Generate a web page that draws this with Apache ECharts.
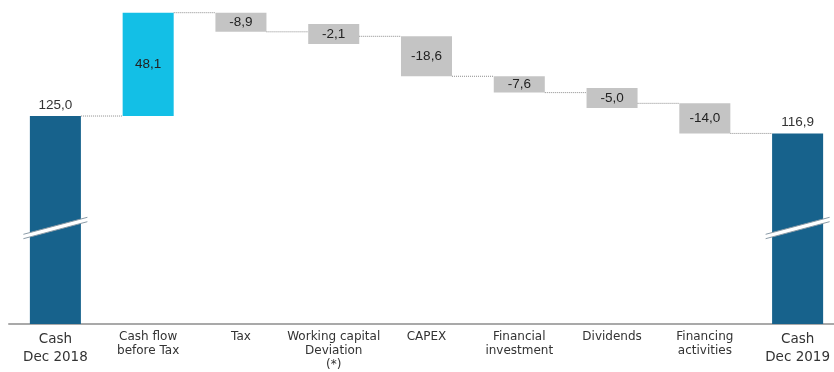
<!DOCTYPE html>
<html>
<head>
<meta charset="utf-8">
<script src="https://cdn.jsdelivr.net/npm/echarts@6/dist/echarts.min.js"></script>
<style>
html,body{margin:0;padding:0;background:#fff;overflow:hidden;width:834px;height:372px;}
#c{width:844px;height:372px;}
</style>
</head>
<body>
<div id="c"></div>
<script>
// ---- data ----
const categories = ['Cash\nDec 2018', 'Cash flow\nbefore Tax', 'Tax', 'Working capital\nDeviation\n(*)', 'CAPEX', 'Financial\ninvestment', 'Dividends', 'Financing\nactivities', 'Cash\nDec 2019'];
const startCash = 125.0;
const deltas = [48.1, -8.9, -2.1, -18.6, -7.6, -5.0, -14.0];
const endCash = 116.9;
const Y_MIN = 28.2, Y_MAX = 179;

// ---- build waterfall items: [idx, low, high, end, kind, value] ----
const items = [];
items.push([0, Y_MIN, startCash, startCash, 0, startCash]);
let run = startCash;
deltas.forEach((d, k) => {
  const prev = run;
  run = +(run + d).toFixed(1);
  items.push([k + 1, Math.min(prev, run), Math.max(prev, run), run, d > 0 ? 1 : 2, d]);
});
items.push([categories.length - 1, Y_MIN, endCash, endCash, 0, endCash]);

const COLORS = ['#17628c', '#13bfe6', '#c4c4c4'];
const fmt = v => v.toFixed(1).replace('.', ',');

const chart = echarts.init(document.getElementById('c'));
chart.setOption({
  animation: false,
  grid: { left: 9, right: 0, top: 0, bottom: 48 },
  xAxis: {
    type: 'category',
    data: categories,
    axisTick: { show: false },
    axisLine: { lineStyle: { color: '#a9a9a9', width: 2 } },
    axisLabel: {
      interval: 0,
      margin: 6,
      formatter: function (v) {
        const lines = v.split('\n');
        const big = v.indexOf('Cash\nDec') === 0;
        return lines.map(l => '{' + (big ? 'b' : 's') + '|' + l + '}').join('\n');
      },
      rich: {
        b: { fontFamily: 'DejaVu Sans', fontSize: 13.5, lineHeight: 18, color: '#333' },
        s: { fontFamily: 'DejaVu Sans', fontSize: 12, lineHeight: 14, color: '#333' }
      }
    }
  },
  yAxis: { type: 'value', min: Y_MIN, max: Y_MAX, show: false, splitLine: { show: false } },
  series: [{
    type: 'custom',
    data: items,
    encode: { x: 0, y: [1, 2] },
    renderItem: function (params, api) {
      const idx = api.value(0), low = api.value(1), high = api.value(2);
      const end = api.value(3), kind = api.value(4), val = api.value(5);
      const pTop = api.coord([idx, high]);
      const pBot = api.coord([idx, low]);
      const bw = api.size([1, 0])[0] * 0.55;
      const cx = pTop[0];
      let y0 = pTop[1], y1 = pBot[1];
      if (kind !== 0 && y1 - y0 < 12) {
        const mid = (y0 + y1) / 2; y0 = mid - 10; y1 = mid + 10;
      }
      const children = [];
      children.push({
        type: 'rect',
        shape: { x: cx - bw / 2, y: y0, width: bw, height: y1 - y0 },
        style: { fill: COLORS[kind] }
      });
      if (kind === 0) {
        // axis-break mark
        const yc = pBot[1] - 96;
        const hw = 32, dy = 8.5, t = 2.2;
        children.push({
          type: 'polygon',
          shape: { points: [[cx - hw, yc + dy - t], [cx + hw, yc - dy - t], [cx + hw, yc - dy + t], [cx - hw, yc + dy + t]] },
          style: { fill: '#ffffff' }
        });
        children.push({ type: 'line', shape: { x1: cx - hw, y1: yc + dy - t, x2: cx + hw, y2: yc - dy - t }, style: { stroke: '#8a9aa6', lineWidth: 1 } });
        children.push({ type: 'line', shape: { x1: cx - hw, y1: yc + dy + t, x2: cx + hw, y2: yc - dy + t }, style: { stroke: '#8a9aa6', lineWidth: 1 } });
        children.push({
          type: 'text',
          style: { text: fmt(val), x: cx, y: pTop[1] - 4, align: 'center', verticalAlign: 'bottom', fill: '#333', font: '13.5px "Liberation Sans"' }
        });
      } else {
        children.push({
          type: 'text',
          style: { text: fmt(val), x: cx, y: (y0 + y1) / 2, align: 'center', verticalAlign: 'middle', fill: '#222', font: '13.5px "Liberation Sans"' }
        });
      }
      if (idx < categories.length - 1) {
        const pe = api.coord([idx, end]);
        const pn = api.coord([idx + 1, end]);
        children.push({
          type: 'line',
          shape: { x1: cx + bw / 2, y1: pe[1], x2: pn[0] - bw / 2, y2: pe[1] },
          style: { stroke: '#8c8c8c', lineWidth: 1, lineDash: [1, 1] }
        });
      }
      return { type: 'group', children: children };
    }
  }]
});
</script>
</body>
</html>
